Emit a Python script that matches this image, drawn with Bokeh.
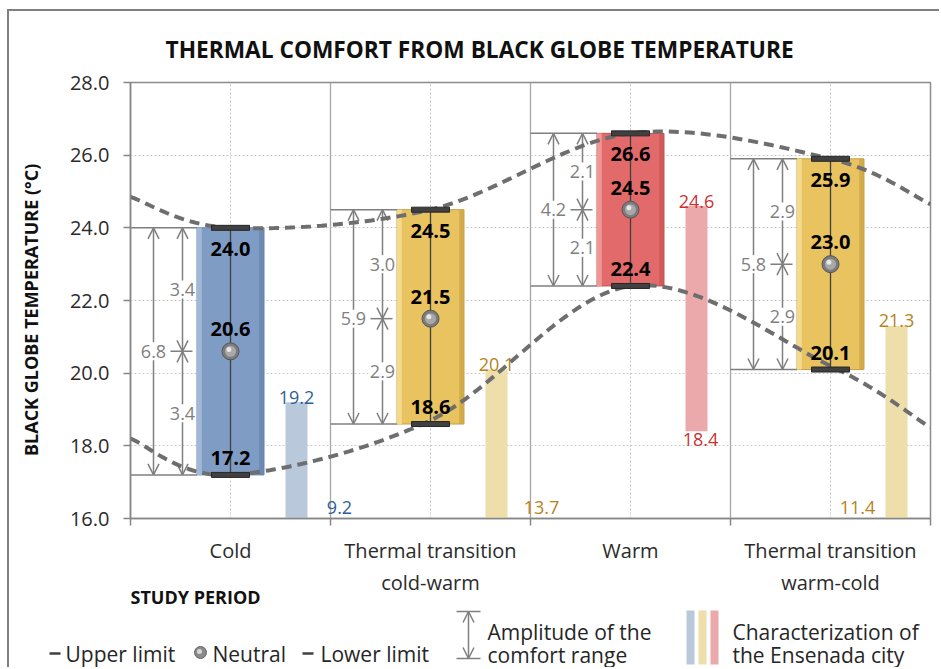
import numpy as np
from bokeh.plotting import figure
from bokeh.models import Range1d, FixedTicker, Arrow, OpenHead, ColumnDataSource, PrintfTickFormatter
from bokeh.embed import file_html
from bokeh.resources import INLINE
from bokeh.core.properties import value

# ---------------- data ----------------
categories = ["Cold", "Thermal transition\ncold-warm", "Warm", "Thermal transition\nwarm-cold"]
upper_limit = [24.0, 24.5, 26.6, 25.9]
neutral = [20.6, 21.5, 24.5, 23.0]
lower_limit = [17.2, 18.6, 22.4, 20.1]
amp_total = [6.8, 5.9, 4.2, 5.8]
amp_upper = [3.4, 3.0, 2.1, 2.9]
amp_lower = [3.4, 2.9, 2.1, 2.9]
city_max = [19.2, 20.1, 24.6, 21.3]
city_min = [9.2, 13.7, 18.4, 11.4]
upper_curve_x = [0.5, 1, 2, 3, 4, 4.5]
upper_curve_y = [24.85, 24.0, 24.5, 26.6, 25.9, 24.65]
lower_curve_x = [0.5, 1, 2, 3, 4, 4.5]
lower_curve_y = [18.2, 17.2, 18.7, 22.4, 20.2, 18.5]
y_ticks = [16, 18, 20, 22, 24, 26, 28]
legend_labels = ["Upper limit", "Neutral", "Lower limit", "Amplitude of the", "comfort range",
                 "Characterization of", "the Ensenada city"]

# ---------------- styles ----------------
FONT = value("Open Sans")
box_fill = ["#7F9CC5", "#E8C360", "#E36A6A", "#E8C360"]
box_light = ["#A3B8D6", "#F3DA8E", "#EE9797", "#F3DA8E"]
box_dark = ["#6682AD", "#C9A242", "#C85252", "#C9A242"]
city_fill = ["#B9C9DB", "#EEDEA9", "#EBA9AB", "#EEDEA9"]
city_text = ["#2E5F98", "#B5841C", "#C83232", "#B5841C"]
min_label_dx = [0.545, 0.555, 0.35, 0.135]
GRAY = "#7F7F7F"
TXT = "#262626"

xs = [i + 1 for i in range(len(categories))]
box_w = 0.335
box_left = [x - box_w / 2 for x in xs]
outer_x = [x - 0.385 for x in xs]
inner_x = [x - 0.24 for x in xs]
city_x = [x + 0.33 for x in xs]


def smooth(px, py, n=40):
    P = np.column_stack([px, py]).astype(float)
    m = len(P)
    out = []
    for i in range(m - 1):
        p0 = P[i - 1] if i > 0 else P[i]
        p1, p2 = P[i], P[i + 1]
        p3 = P[i + 2] if i + 2 < m else P[i + 1]
        c1 = p1 + (p2 - p0) / 6.0
        c2 = p2 - (p3 - p1) / 6.0
        t = np.linspace(0, 1, n)[:, None]
        seg = (1 - t) ** 3 * p1 + 3 * (1 - t) ** 2 * t * c1 + 3 * (1 - t) * t ** 2 * c2 + t ** 3 * p2
        out.append(seg if i == 0 else seg[1:])
    a = np.vstack(out)
    return a[:, 0], a[:, 1]


# ---------------- main figure ----------------
p = figure(width=932, height=590, x_range=Range1d(0.5, 4.5), y_range=Range1d(16, 28),
           output_backend="svg", toolbar_location=None,
           title="THERMAL COMFORT FROM BLACK GLOBE TEMPERATURE",
           min_border_left=121, min_border_right=11, min_border_top=71, min_border_bottom=83)
p.background_fill_color = "white"
p.border_fill_color = "white"
p.outline_line_color = "#8C8C8C"
p.outline_line_width = 1.5

p.title.align = "left"
p.title.offset = 35
p.title.text_font = "Open Sans"
p.title.text_font_size = "22.7px"
p.title.text_font_style = "bold"
p.title.text_color = "#111111"
p.title.standoff = 36

p.yaxis.axis_label = "BLACK  GLOBE  TEMPERATURE   (°C)"
p.yaxis.axis_label_text_font = "Open Sans"
p.yaxis.axis_label_text_font_size = "18px"
p.yaxis.axis_label_text_font_style = "bold"
p.yaxis.axis_label_text_color = "#111111"
p.yaxis.axis_label_standoff = 24

p.yaxis.ticker = FixedTicker(ticks=y_ticks)
p.yaxis.formatter = PrintfTickFormatter(format="%.1f")
p.yaxis.major_tick_out = 7
p.yaxis.major_tick_in = 0
p.yaxis.minor_tick_out = 0
p.yaxis.minor_tick_in = 0
p.yaxis.major_label_standoff = 14
p.yaxis.axis_line_color = "#868686"
p.yaxis.axis_line_width = 1.5
p.yaxis.major_tick_line_color = "#868686"
p.yaxis.major_tick_line_width = 1.5

p.xaxis.ticker = FixedTicker(ticks=xs, minor_ticks=[0.5, 1.5, 2.5, 3.5, 4.5])
p.xaxis.major_label_overrides = {x: c for x, c in zip(xs, categories)}
p.xaxis.major_tick_out = 0
p.xaxis.major_tick_in = 0
p.xaxis.minor_tick_out = 7
p.xaxis.minor_tick_in = 0
p.xaxis.minor_tick_line_color = "#868686"
p.xaxis.minor_tick_line_width = 1.5
p.xaxis.major_label_standoff = 11
p.xaxis.axis_line_color = "#868686"
p.xaxis.axis_line_width = 1.5

for ax in (p.xaxis, p.yaxis):
    ax.major_label_text_font = "Open Sans"
    ax.major_label_text_font_size = "20px"
    ax.major_label_text_color = "#2B2B2B"

p.ygrid.ticker = FixedTicker(ticks=y_ticks)
p.ygrid.grid_line_color = "#C8C8C8"
p.ygrid.grid_line_dash = "2 2"
p.xgrid.grid_line_color = "#C8C8C8"
p.xgrid.grid_line_dash = "2 2"
p.xgrid.minor_grid_line_color = "#A6A6A6"
p.xgrid.minor_grid_line_width = 1.3

# extension lines at limits
p.segment(x0=[x - 0.5 for x in xs], y0=upper_limit, x1=box_left, y1=upper_limit, line_color=GRAY, line_width=1.5)
p.segment(x0=[x - 0.5 for x in xs], y0=lower_limit, x1=box_left, y1=lower_limit, line_color=GRAY, line_width=1.5)
# neutral tick
p.segment(x0=[x - 0.30 for x in xs], y0=neutral, x1=[x - 0.19 for x in xs], y1=neutral, line_color=GRAY, line_width=1.5)

# amplitude arrows
head = dict(size=11, line_color=GRAY, line_width=1.5)
arrows = [
    (outer_x, lower_limit, outer_x, upper_limit),
    (inner_x, neutral, inner_x, upper_limit),
    (inner_x, lower_limit, inner_x, neutral),
]
for x0, y0, x1, y1 in arrows:
    src = ColumnDataSource(dict(x0=x0, y0=y0, x1=x1, y1=y1))
    p.add_layout(Arrow(start=OpenHead(**head), end=OpenHead(**head), x_start="x0", y_start="y0",
                       x_end="x1", y_end="y1", source=src, line_color=GRAY, line_width=1.5, level="underlay"))

# amplitude labels
amp_x = outer_x + inner_x + inner_x
amp_y = neutral + [(u + n) / 2 for u, n in zip(upper_limit, neutral)] + [(l + n) / 2 for l, n in zip(lower_limit, neutral)]
amp_t = [f"{v:.1f}" for v in amp_total + amp_upper + amp_lower]
p.rect(x=amp_x, y=amp_y, width=28, height=18, width_units="screen", height_units="screen",
       fill_color="white", line_color=None)
p.text(x=amp_x, y=amp_y, text=amp_t, text_font=FONT, text_font_size="18px", text_color=GRAY,
       text_align="center", text_baseline="middle")

# city (Ensenada) bars
p.vbar(x=city_x, bottom=city_min, top=city_max, width=0.11, fill_color=city_fill, line_color=None)
p.text(x=city_x, y=city_max, text=[f"{v:.1f}" for v in city_max], text_font=FONT, text_font_size="18px",
       text_color=city_text, text_align="center", text_baseline="alphabetic", y_offset=-5)
min_y = [max(v, 16.0) for v in city_min]
min_base = ["alphabetic" if v < 16 else "top" for v in city_min]
min_off = [-11 if v < 16 else 2 for v in city_min]
p.text(x=[x + d for x, d in zip(xs, min_label_dx)], y=min_y, text=[f"{v:.1f}" for v in city_min],
       text_font=FONT, text_font_size="18px", text_color=city_text, text_align="center",
       text_baseline=min_base, y_offset=min_off)

# comfort boxes with bevel effect
p.vbar(x=xs, bottom=lower_limit, top=upper_limit, width=box_w, fill_color=box_fill, line_color=box_dark, line_width=1)
p.vbar(x=[b + 0.012 for b in box_left], bottom=lower_limit, top=upper_limit, width=0.024, fill_color=box_light, line_color=None)
p.vbar(x=[b + box_w - 0.012 for b in box_left], bottom=lower_limit, top=upper_limit, width=0.024, fill_color=box_dark, line_color=None, fill_alpha=0.7)

# limit curves
for cx, cy in ((upper_curve_x, upper_curve_y), (lower_curve_x, lower_curve_y)):
    sx, sy = smooth(cx, cy)
    p.line(sx, sy, line_color="#6E6E6E", line_width=4, line_dash="10 6")

# center line, caps, neutral spheres
p.segment(x0=xs, y0=lower_limit, x1=xs, y1=upper_limit, line_color="#404040", line_width=1.3)
p.rect(x=xs, y=upper_limit, width=0.19, height=5, height_units="screen", fill_color="#404040", line_color="#262626")
p.rect(x=xs, y=lower_limit, width=0.19, height=5, height_units="screen", fill_color="#404040", line_color="#262626")
p.scatter(x=xs, y=neutral, size=17, marker="circle", fill_color="#7C7C7C", line_color="#555555")
p.scatter(x=xs, y=neutral, size=11, marker="circle", fill_color="#A8A8A8", line_color=None)
p.scatter(x=[x - 0.008 for x in xs], y=[n + 0.05 for n in neutral], size=5, marker="circle", fill_color="#E6E6E6", line_color=None)

# value labels
p.text(x=xs, y=upper_limit, text=[f"{v:.1f}" for v in upper_limit], text_font=FONT, text_font_size="20px",
       text_font_style="bold", text_color="black", text_align="center", text_baseline="top", y_offset=14)
p.text(x=xs, y=neutral, text=[f"{v:.1f}" for v in neutral], text_font=FONT, text_font_size="20px",
       text_font_style="bold", text_color="black", text_align="center", text_baseline="alphabetic", y_offset=-22)
p.text(x=xs, y=lower_limit, text=[f"{v:.1f}" for v in lower_limit], text_font=FONT, text_font_size="20px",
       text_font_style="bold", text_color="black", text_align="center", text_baseline="alphabetic", y_offset=-17)

# ---------------- legend strip (pixel coordinates) ----------------
lg = figure(width=932, height=90, x_range=Range1d(0, 932), y_range=Range1d(0, 90), output_backend="svg",
            toolbar_location=None, x_axis_type=None, y_axis_type=None, min_border=0)
lg.grid.visible = False
lg.outline_line_color = None
lg.background_fill_color = None
lg.border_fill_color = None
LT = dict(text_font=FONT, text_font_size="21px", text_color=TXT, text_align="left", text_baseline="middle")
lg.text(x=[121], y=[71], text=["STUDY PERIOD"], text_font=FONT, text_font_size="18px", text_font_style="bold",
        text_color="#111111", text_align="left", text_baseline="middle")
lg.segment(x0=[40, 293], y0=[14, 14], x1=[51, 304], y1=[14, 14], line_color="#404040", line_width=2.5)
lg.text(x=[56, 203, 311], y=[14, 14, 14], text=legend_labels[:3], **LT)
lg.scatter(x=[191], y=[15], size=12, marker="circle", fill_color="#8A8A8A", line_color="#666666")
lg.scatter(x=[190], y=[16], size=5, marker="circle", fill_color="#D8D8D8", line_color=None)
lg.segment(x0=[447, 447], y0=[56, 9], x1=[471, 471], y1=[56, 9], line_color=GRAY, line_width=1.5)
lg.add_layout(Arrow(start=OpenHead(**head), end=OpenHead(**head), x_start=459, y_start=9, x_end=459, y_end=56,
                    line_color=GRAY, line_width=1.5))
lg.text(x=[478, 478, 723, 723], y=[36, 13, 36, 13], text=legend_labels[3:], **LT)
lg.vbar(x=[681, 693, 705], bottom=3, top=57, width=8, fill_color=city_fill[:3], line_color=None)

p.styles = {"border-left": "2px solid #7F7F7F", "border-top": "2px solid #7F7F7F",
            "margin-left": "7px", "margin-top": "9px"}
lg.styles = {"border-left": "2px solid #7F7F7F", "margin-left": "7px", "margin-top": "-22px"}

open("out.html", "w").write(file_html([p, lg], INLINE))
